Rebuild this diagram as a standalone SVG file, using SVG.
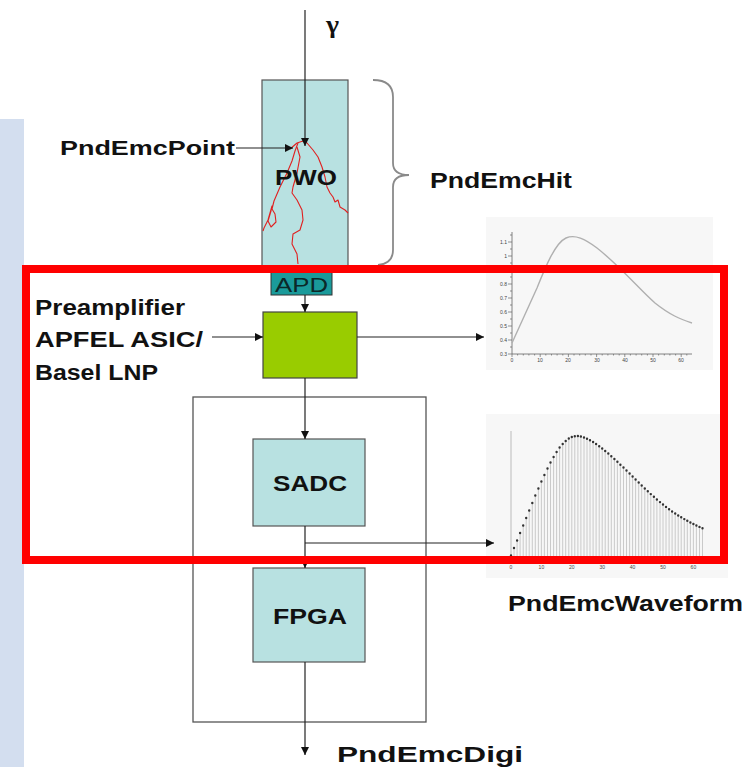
<svg xmlns="http://www.w3.org/2000/svg" width="748" height="767" viewBox="0 0 748 767">
<style>
.lbl{font-family:"Liberation Sans",Arial,sans-serif;font-weight:bold;font-size:22px;fill:#111}
.box{fill:#b8e1e1;stroke:#555;stroke-width:1.2}
.ln{stroke:#222;stroke-width:1.2;fill:none}
.tk{font-family:"Liberation Sans",Arial,sans-serif;font-size:5px;fill:#444}
</style>
<defs>
<marker id="ah" viewBox="0 0 10 10" refX="10" refY="5" markerWidth="8" markerHeight="8" markerUnits="userSpaceOnUse" orient="auto">
<path d="M0,0 L10,5 L0,10 Z" fill="#111"/>
</marker>
</defs>
<rect width="748" height="767" fill="#fff"/>
<rect x="0" y="119" width="24" height="648" fill="#d3deef"/>

<g id="plot1">
<rect x="486" y="217" width="227" height="153" fill="#f7f7f7"/>
<path d="M512,232 V354 H692" stroke="#666" stroke-width="0.8" fill="none"/>
<path d="M508,354h4M508,340h4M508,326h4M508,312h4M508,298h4M508,284h4M508,270h4M508,256h4M508,242h4M510,347h2M510,333h2M510,319h2M510,305h2M510,291h2M510,277h2M510,263h2M510,249h2M510,235h2" stroke="#666" stroke-width="0.7"/>
<path d="M512,354v3M540.2,354v3M568.4,354v3M596.6,354v3M624.8,354v3M653,354v3M681.2,354v3M517.6,354v1.5M523.3,354v1.5M528.9,354v1.5M534.6,354v1.5M545.8,354v1.5M551.5,354v1.5M557.1,354v1.5M562.8,354v1.5M574,354v1.5M579.7,354v1.5M585.3,354v1.5M591,354v1.5M602.2,354v1.5M607.9,354v1.5M613.5,354v1.5M619.2,354v1.5M630.4,354v1.5M636.1,354v1.5M641.7,354v1.5M647.4,354v1.5M658.6,354v1.5M664.3,354v1.5M669.9,354v1.5M675.6,354v1.5M686.8,354v1.5" stroke="#666" stroke-width="0.7"/>
<g class="tk" text-anchor="end">
<text x="507" y="356">0.3</text><text x="507" y="342">0.4</text><text x="507" y="328">0.5</text><text x="507" y="314">0.6</text><text x="507" y="300">0.7</text><text x="507" y="286">0.8</text><text x="507" y="272">0.9</text><text x="507" y="258">1</text><text x="507" y="244">1.1</text>
</g>
<g class="tk" text-anchor="middle">
<text x="512" y="362">0</text><text x="540" y="362">10</text><text x="568" y="362">20</text><text x="597" y="362">30</text><text x="625" y="362">40</text><text x="653" y="362">50</text><text x="681" y="362">60</text>
</g>
<path d="M512,343 L537,288 C545,268 555,243 566,238 C575,234 585,239 597,248 C620,266 640,290 655,303 C670,315 680,319 692,323" stroke="#b0b0b0" stroke-width="1.4" fill="none"/>
</g>

<g id="plot2">
<rect x="486" y="414" width="242" height="164" fill="#f7f7f7"/>
<path d="M511,431 V556" stroke="#bbb" stroke-width="1"/>
<path stroke="#c4c4c4" stroke-width="0.9" fill="none" d="M514.0,548V556M517.1,540.5V556M520.1,533V556M523.2,525.5V556M526.2,518V556M529.2,510.5V556M532.3,503V556M535.3,495.5V556M538.4,488.5V556M541.4,481.5V556M544.4,475V556M547.5,468.5V556M550.5,462.5V556M553.6,457V556M556.6,452V556M559.6,447.5V556M562.7,444V556M565.7,441V556M568.8,438.5V556M571.8,437V556M574.8,436.2V556M577.9,436V556M580.9,436.5V556M584.0,437.5V556M587.0,438.7V556M590.0,440.2V556M593.1,442V556M596.1,444V556M599.2,446.2V556M602.2,448.5V556M605.2,451V556M608.3,453.5V556M611.3,456.2V556M614.4,459V556M617.4,461.8V556M620.4,464.7V556M623.5,467.5V556M626.5,470.5V556M629.6,473.5V556M632.6,476.5V556M635.6,479.5V556M638.7,482.5V556M641.7,485.5V556M644.8,488.5V556M647.8,491.3V556M650.8,494.1V556M653.9,496.8V556M656.9,499.5V556M660.0,502.1V556M663.0,504.5V556M666.0,506.9V556M669.1,509.2V556M672.1,511.5V556M675.2,513.5V556M678.2,515.5V556M681.2,517.3V556M684.3,519.1V556M687.3,520.8V556M690.4,522.5V556M693.4,524V556M696.4,525.5V556M699.5,526.9V556M702.5,528.2V556"/>
<path stroke="#333" stroke-width="2.4" stroke-linecap="round" fill="none" d="M511,555.5h0M514.0,548h0M517.1,540.5h0M520.1,533h0M523.2,525.5h0M526.2,518h0M529.2,510.5h0M532.3,503h0M535.3,495.5h0M538.4,488.5h0M541.4,481.5h0M544.4,475h0M547.5,468.5h0M550.5,462.5h0M553.6,457h0M556.6,452h0M559.6,447.5h0M562.7,444h0M565.7,441h0M568.8,438.5h0M571.8,437h0M574.8,436.2h0M577.9,436h0M580.9,436.5h0M584.0,437.5h0M587.0,438.7h0M590.0,440.2h0M593.1,442h0M596.1,444h0M599.2,446.2h0M602.2,448.5h0M605.2,451h0M608.3,453.5h0M611.3,456.2h0M614.4,459h0M617.4,461.8h0M620.4,464.7h0M623.5,467.5h0M626.5,470.5h0M629.6,473.5h0M632.6,476.5h0M635.6,479.5h0M638.7,482.5h0M641.7,485.5h0M644.8,488.5h0M647.8,491.3h0M650.8,494.1h0M653.9,496.8h0M656.9,499.5h0M660.0,502.1h0M663.0,504.5h0M666.0,506.9h0M669.1,509.2h0M672.1,511.5h0M675.2,513.5h0M678.2,515.5h0M681.2,517.3h0M684.3,519.1h0M687.3,520.8h0M690.4,522.5h0M693.4,524h0M696.4,525.5h0M699.5,526.9h0M702.5,528.2h0"/>
<g class="tk" text-anchor="middle">
<text x="511" y="569">0</text><text x="541.4" y="569">10</text><text x="571.8" y="569">20</text><text x="602.2" y="569">30</text><text x="632.6" y="569">40</text><text x="663" y="569">50</text><text x="693.4" y="569">60</text>
</g>
</g>

<g id="electronics-box">
<rect x="193" y="397" width="233" height="325" fill="none" stroke="#555" stroke-width="1.3"/>
</g>

<g id="pwo">
<rect class="box" x="262" y="80" width="86" height="186"/>
<g stroke="#e02020" stroke-width="1.1" fill="none" stroke-linejoin="round">
<path d="M290,149 L297,143 L303,141 L307,143 L313,150 L318,157 L322,167 L325,177 L327,187 L330,193 L333,197 L335,202 L338,200 L340,207 L345,210 L348,213"/>
<path d="M298,143 L295,151 L292,161 L287,173 L280,187 L274,201 L272,209 L275,214 L276,222 L271,227 L268,221 L271,211 L272,206 L268,220 L264,228 L263,231"/>
<path d="M297,147 L300,157 L297,173 L293,187 L292,193 L297,200 L302,210 L303,220 L300,230 L293,234 L292,244 L297,254 L298,264"/>
</g>
<text class="lbl" x="275" y="185" textLength="62" lengthAdjust="spacingAndGlyphs">PWO</text>
</g>

<g id="apd">
<rect x="271" y="272" width="61" height="23" fill="#1a9a9a" stroke="#333" stroke-width="1"/>
<text x="275" y="292" textLength="53" lengthAdjust="spacingAndGlyphs" style="font-family:'Liberation Sans',Arial,sans-serif;font-size:21px;fill:#0b2828">APD</text>
</g>

<g id="preamp">
<rect x="263" y="312" width="94" height="66" fill="#99cc00" stroke="#444" stroke-width="1.2"/>
</g>

<g id="sadc">
<rect class="box" x="253" y="439" width="112" height="87"/>
<text class="lbl" x="273" y="491" textLength="74" lengthAdjust="spacingAndGlyphs">SADC</text>
</g>

<g id="fpga">
<rect class="box" x="253" y="568" width="112" height="94"/>
<text class="lbl" x="273" y="624" textLength="74" lengthAdjust="spacingAndGlyphs">FPGA</text>
</g>

<g id="labels">
<text x="326" y="33" textLength="13" lengthAdjust="spacingAndGlyphs" style="font-family:'Liberation Serif','Times New Roman',serif;font-size:26px;font-weight:bold;fill:#111">γ</text>
<text class="lbl" x="60" y="155" style="font-size:20px" textLength="175" lengthAdjust="spacingAndGlyphs">PndEmcPoint</text>
<text class="lbl" x="430" y="188" textLength="142" lengthAdjust="spacingAndGlyphs">PndEmcHit</text>
<text class="lbl" x="35" y="315" textLength="150" lengthAdjust="spacingAndGlyphs">Preamplifier</text>
<text class="lbl" x="35" y="347" textLength="168" lengthAdjust="spacingAndGlyphs">APFEL ASIC/</text>
<text class="lbl" x="35" y="380" textLength="123" lengthAdjust="spacingAndGlyphs">Basel LNP</text>
<text class="lbl" x="508" y="611" textLength="235" lengthAdjust="spacingAndGlyphs">PndEmcWaveform</text>
<text class="lbl" x="337" y="762" textLength="186" lengthAdjust="spacingAndGlyphs">PndEmcDigi</text>
</g>

<g id="connectors">
<path class="ln" d="M305,10 V146" marker-end="url(#ah)"/>
<path class="ln" d="M236,148 H293" marker-end="url(#ah)"/>
<path class="ln" d="M305,295 V312" marker-end="url(#ah)"/>
<path class="ln" d="M212,337 H263" marker-end="url(#ah)"/>
<path class="ln" d="M357,337 H484" marker-end="url(#ah)"/>
<path class="ln" d="M305,378 V439" marker-end="url(#ah)"/>
<path class="ln" d="M305,526 V568" marker-end="url(#ah)"/>
<path class="ln" d="M305,543 H494" marker-end="url(#ah)"/>
<path class="ln" d="M305,662 V755" marker-end="url(#ah)"/>
<path d="M373,80 C385,80 393,84 393,97 L393,163 C393,172 400,175 409,175 C400,175 393,178 393,187 L393,250 C393,259 388,264 378,265" fill="none" stroke="#8a8a8a" stroke-width="1.8"/>
</g>

<rect x="26" y="269" width="698" height="291" fill="none" stroke="#ff0000" stroke-width="8"/>
</svg>
